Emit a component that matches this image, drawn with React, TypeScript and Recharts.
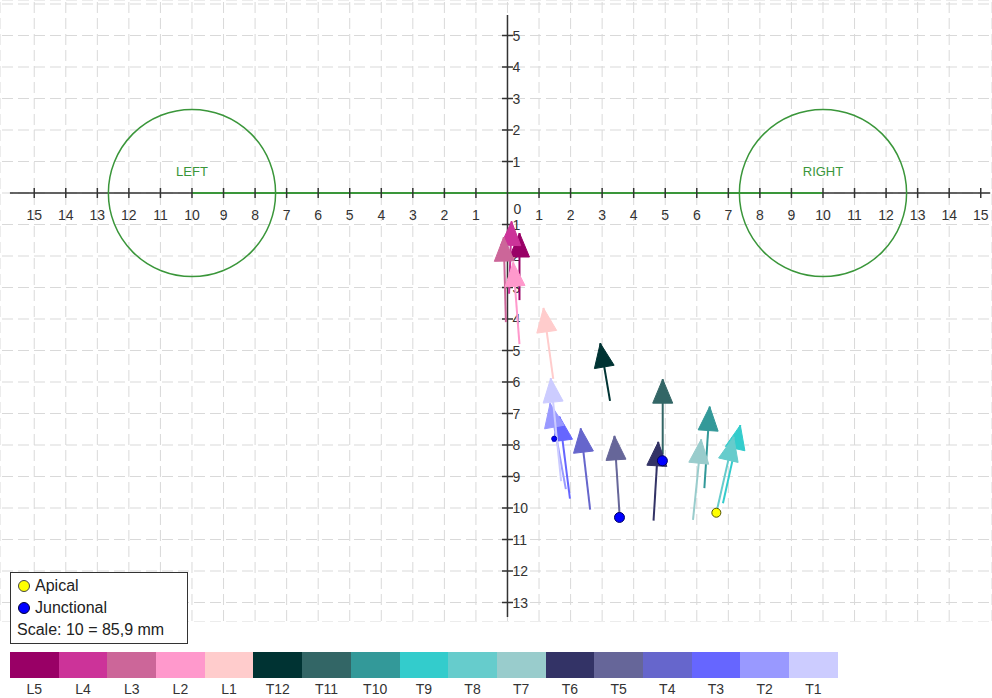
import React from 'react';
import {
  ScatterChart,
  Scatter,
  XAxis,
  YAxis,
  CartesianGrid,
  ReferenceLine,
  ReferenceDot,
} from 'recharts';

// vertebra levels, top to bottom of the colour bar
const LEVELS = ['L5', 'L4', 'L3', 'L2', 'L1', 'T12', 'T11', 'T10', 'T9', 'T8', 'T7', 'T6', 'T5', 'T4', 'T3', 'T2', 'T1'];
const COLORS = [
  '#990066', '#cc3399', '#cc6699', '#ff99cc', '#ffcccc',
  '#003333', '#336666', '#339999', '#33cccc', '#66cccc', '#99cccc',
  '#333366', '#666699', '#6666cc', '#6666ff', '#9999ff', '#ccccff',
];

// arrow tail (base) and tip per level
const TAIL_X = [0.38, 0.05, -0.05, 0.38, 1.45, 3.25, 4.92, 6.24, 6.83, 6.64, 5.88, 4.63, 3.55, 2.62, 1.98, 1.85, 1.7];
const TAIL_Y = [-3.4, -3.2, -4.1, -4.8, -5.9, -6.6, -8.3, -9.37, -9.85, -10.06, -10.38, -10.4, -10.17, -10.05, -9.7, -9.4, -9.15];
const TIP_X = [0.38, 0.13, -0.12, 0.18, 1.14, 2.94, 4.92, 6.41, 7.38, 7.17, 6.14, 4.78, 3.39, 2.32, 1.65, 1.35, 1.37];
const TIP_Y = [-1.27, -0.9, -1.4, -2.2, -3.65, -4.77, -5.91, -6.78, -7.37, -7.74, -7.82, -7.9, -7.71, -7.47, -7.1, -6.68, -5.88];

const APICAL = [{ x: 6.62, y: -10.15 }];
const JUNCTIONAL = [
  { x: 3.55, y: -10.3 },
  { x: 4.91, y: -8.5 },
];
const JUNCTIONAL_SMALL = [{ x: 1.48, y: -7.8 }];

const X_TICKS = [-15, -14, -13, -12, -11, -10, -9, -8, -7, -6, -5, -4, -3, -2, -1, 1, 2, 3, 4, 5, 6, 7, 8, 9, 10, 11, 12, 13, 14, 15];
const Y_TICKS = [5, 4, 3, 2, 1, -1, -2, -3, -4, -5, -6, -7, -8, -9, -10, -11, -12, -13];

const REGIONS = [
  { x: -10, y: 0, label: 'LEFT' },
  { x: 10, y: 0, label: 'RIGHT' },
];

const W = 992;
const H = 622;
const X_MIN = -16.085;
const X_MAX = 15.357;
const Y_MAX = 6.127;
const Y_MIN = Y_MAX - H / 31.5;
const PX_X = W / (X_MAX - X_MIN);
const PX_Y = H / (Y_MAX - Y_MIN);

const gridX: number[] = [];
for (let v = -16; v <= 15.5; v += 0.5) gridX.push(v);
const gridY: number[] = [];
for (let v = -14; v <= 6; v += 0.5) gridY.push(v);

const GREEN = '#3a963a';
const AXIS = '#333';
const FONT = 'Arial, "Liberation Sans", sans-serif';

function ArrowHead(props: any) {
  const { cx, cy, payload } = props;
  if (!payload || !payload.head) return <g />;
  const i = payload.i;
  const dx = (TIP_X[i] - TAIL_X[i]) * PX_X;
  const dy = -(TIP_Y[i] - TAIL_Y[i]) * PX_Y;
  const len = Math.hypot(dx, dy) || 1;
  const ux = dx / len;
  const uy = dy / len;
  const bx = cx - ux * 24;
  const by = cy - uy * 24;
  const px = -uy * 10;
  const py = ux * 10;
  return (
    <polygon
      points={`${cx},${cy} ${bx + px},${by + py} ${bx - px},${by - py}`}
      fill={COLORS[i]}
      stroke={COLORS[i]}
      strokeWidth={1}
    />
  );
}

function XTick(props: any) {
  const { cx, cy, payload } = props;
  return (
    <g>
      <line x1={cx} y1={cy - 5} x2={cx} y2={cy + 5} stroke={AXIS} strokeWidth={1.5} />
      <text x={cx} y={cy + 27} textAnchor="middle" fontSize={14} fill="#333" fontFamily={FONT}>
        {Math.abs(payload.x)}
      </text>
    </g>
  );
}

function YTick(props: any) {
  const { cx, cy, payload } = props;
  return (
    <g>
      <line x1={cx - 5.5} y1={cy} x2={cx + 5.5} y2={cy} stroke={AXIS} strokeWidth={1.5} />
      <text x={cx + 5} y={cy + 5} textAnchor="start" fontSize={14} fill="#333" fontFamily={FONT}>
        {Math.abs(payload.y)}
      </text>
    </g>
  );
}

function RegionLabel(props: any) {
  const { cx, cy, payload } = props;
  return (
    <text x={cx} y={cy - 17} textAnchor="middle" fontSize={13} fill={GREEN} fontFamily={FONT}>
      {payload.label}
    </text>
  );
}

function Dot(props: any) {
  const { cx, cy, fill, stroke, r } = props;
  return <circle cx={cx} cy={cy} r={r} fill={fill} stroke={stroke} strokeWidth={1} />;
}

export default function App() {
  const arrows = LEVELS.map((lvl, i) => ({
    name: lvl,
    data: [
      { x: TAIL_X[i], y: TAIL_Y[i] },
      { x: TIP_X[i], y: TIP_Y[i], head: true, i },
    ],
  }));

  return (
    <div style={{ position: 'absolute', left: 0, top: 0, width: 992, height: 698, background: '#fff', fontFamily: FONT }}>
      <ScatterChart width={W} height={H} margin={{ top: 0, right: 0, bottom: 0, left: 0 }}>
        <CartesianGrid stroke="#d9d9d9" strokeDasharray="11 5" strokeDashoffset={-2} />
        <XAxis type="number" dataKey="x" domain={[X_MIN, X_MAX]} ticks={gridX} hide allowDataOverflow />
        <YAxis type="number" dataKey="y" domain={[Y_MIN, Y_MAX]} ticks={gridY} hide allowDataOverflow />

        <ReferenceLine segment={[{ x: -15.77, y: 0 }, { x: -10, y: 0 }]} stroke={AXIS} strokeWidth={1.5} />
        <ReferenceLine segment={[{ x: -10, y: 0 }, { x: 10, y: 0 }]} stroke={GREEN} strokeWidth={2} />
        <ReferenceLine segment={[{ x: 10, y: 0 }, { x: 15.3, y: 0 }]} stroke={AXIS} strokeWidth={1.5} />
        <ReferenceLine segment={[{ x: 0, y: 5.65 }, { x: 0, y: -13.46 }]} stroke={AXIS} strokeWidth={1.5} />

        {REGIONS.map((r) => (
          <ReferenceDot key={r.label} x={r.x} y={r.y} r={2.65 * PX_X} fill="none" stroke={GREEN} strokeWidth={1.5} />
        ))}
        <Scatter data={REGIONS} shape={RegionLabel} isAnimationActive={false} />

        <Scatter data={X_TICKS.map((x) => ({ x, y: 0 }))} shape={XTick} isAnimationActive={false} />
        <Scatter data={Y_TICKS.map((y) => ({ x: 0, y }))} shape={YTick} isAnimationActive={false} />
        <Scatter
          data={[{ x: 0, y: 0 }]}
          shape={(p: any) => (
            <text x={p.cx + 10} y={p.cy + 21} textAnchor="middle" fontSize={14} fill="#333" fontFamily={FONT}>
              0
            </text>
          )}
          isAnimationActive={false}
        />

        {arrows.map((a, i) => (
          <Scatter
            key={a.name}
            name={a.name}
            data={a.data}
            line={{ stroke: COLORS[i], strokeWidth: 2 }}
            shape={ArrowHead}
            isAnimationActive={false}
          />
        ))}

        <Scatter data={JUNCTIONAL} shape={(p: any) => <Dot {...p} r={5} fill="#0000ff" stroke="#000066" />} isAnimationActive={false} />
        <Scatter data={JUNCTIONAL_SMALL} shape={(p: any) => <Dot {...p} r={2.5} fill="#0000ff" stroke="#0000aa" />} isAnimationActive={false} />
        <Scatter data={APICAL} shape={(p: any) => <Dot {...p} r={4.5} fill="#ffff00" stroke="#555500" />} isAnimationActive={false} />
      </ScatterChart>

      <div
        style={{
          position: 'absolute',
          left: 10,
          top: 572,
          width: 178,
          height: 72,
          border: '1.5px solid #333',
          background: '#fff',
          fontSize: 16,
          color: '#222',
          lineHeight: '22px',
          paddingLeft: 7,
          boxSizing: 'border-box',
          paddingTop: 2,
        }}
      >
        <div style={{ display: 'flex', alignItems: 'center' }}>
          <span style={{ display: 'inline-block', width: 10, height: 10, borderRadius: 6, background: '#ffff00', border: '1px solid #444', marginRight: 5 }} />
          Apical
        </div>
        <div style={{ display: 'flex', alignItems: 'center' }}>
          <span style={{ display: 'inline-block', width: 10, height: 10, borderRadius: 6, background: '#0000ff', border: '1px solid #003', marginRight: 5 }} />
          Junctional
        </div>
        <div style={{ marginLeft: -1 }}>Scale: 10 = 85,9 mm</div>
      </div>

      <div style={{ position: 'absolute', left: 10, top: 652, display: 'flex' }}>
        {LEVELS.map((lvl, i) => (
          <div key={lvl} style={{ width: 48.7, textAlign: 'center' }}>
            <div style={{ height: 26, background: COLORS[i] }} />
            <div style={{ fontSize: 14, color: '#333', marginTop: 3 }}>{lvl}</div>
          </div>
        ))}
      </div>
    </div>
  );
}
